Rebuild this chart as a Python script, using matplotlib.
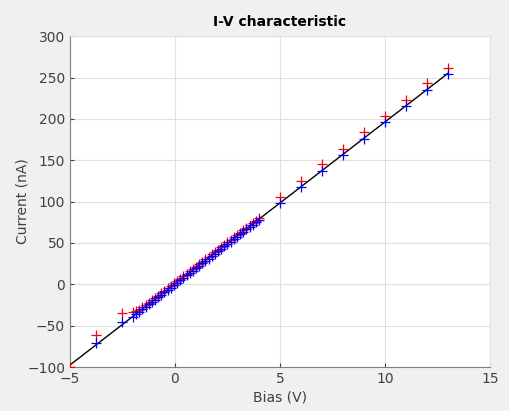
import numpy as np
import matplotlib.pyplot as plt

# measured bias points (V)
bias = [-5, -3.75, -2.5,
        -2.0, -1.85, -1.7, -1.55, -1.4, -1.25, -1.1, -0.95, -0.8, -0.65, -0.5,
        -0.35, -0.2, -0.05, 0.1, 0.25, 0.4, 0.55, 0.7, 0.85, 1.0, 1.15, 1.3,
        1.45, 1.6, 1.75, 1.9, 2.05, 2.2, 2.35, 2.5, 2.65, 2.8, 2.95, 3.1, 3.25,
        3.4, 3.55, 3.7, 3.85, 4.0,
        5, 6, 7, 8, 9, 10, 11, 12, 13]

# corrected current (nA) - blue
i_corr = [np.nan, -71, -46,
          -39, -36.1, -33.2, -30.2, -27.3, -24.4, -21.5, -18.5, -15.6, -12.7, -9.8,
          -6.8, -3.9, -1.0, 2.0, 4.9, 7.8, 10.7, 13.7, 16.6, 19.5, 22.4, 25.4,
          28.3, 31.2, 34.1, 37.1, 40.0, 42.9, 45.8, 48.8, 51.7, 54.6, 57.5, 60.5, 63.4,
          66.3, 69.2, 72.2, 75.1, 78.0,
          98.5, 118, 137.5, 156.5, 175.5, 196, 215, 235, 254.5]

# raw current (nA) - red
i_raw = [-100, -61, -35,
         -34, -32.5, -30.5, -28, -25.3, -22.4, -19.5, -16.5, -13.6, -10.7, -7.8,
         -4.8, -1.9, 1.0, 4.0, 6.9, 9.8, 12.7, 15.7, 18.6, 21.5, 24.4, 27.4,
         30.3, 33.2, 36.1, 39.1, 42.0, 44.9, 47.8, 50.8, 53.7, 56.6, 59.5, 62.5, 65.4,
         68.3, 71.2, 74.2, 77.1, 80.0,
         105, 125.5, 145, 164, 184.5, 203.5, 222.5, 243, 262]

# linear fit
fit_v = [-5, 13]
fit_i = [-97.5, 255]

fig = plt.figure(figsize=(5.09, 4.11), dpi=100, facecolor='#f0f0f0')
ax = fig.add_axes([0.1375, 0.107, 0.825, 0.805])
ax.set_facecolor('white')

ax.plot(fit_v, fit_i, color='black', lw=1, zorder=2)
ax.plot(bias, i_raw, '+', color='red', ms=7, mew=0.9, zorder=3)
ax.plot(bias, i_corr, '+', color='blue', ms=7, mew=0.9, zorder=4)

ax.set_xlim(-5, 15)
ax.set_ylim(-100, 300)
ax.set_xticks(np.arange(-5, 16, 5))
ax.set_yticks(np.arange(-100, 301, 50))
ax.grid(True, color='#e0e0e0', lw=0.8)
ax.set_axisbelow(True)

for s in ['top', 'right']:
    ax.spines[s].set_color('#e0e0e0')
for s in ['left', 'bottom']:
    ax.spines[s].set_color('#808080')
ax.tick_params(colors='#404040', labelsize=10, length=3, direction='in')
ax.tick_params(axis='both', which='both', top=False, right=False)

ax.set_xlabel('Bias (V)', fontsize=10, color='#404040', labelpad=3)
ax.set_ylabel('Current (nA)', fontsize=10, color='#404040', labelpad=-2)
ax.set_title('I-V characteristic', fontsize=10, fontweight='bold', pad=7)

fig.savefig('out.png', dpi=100, facecolor=fig.get_facecolor())
